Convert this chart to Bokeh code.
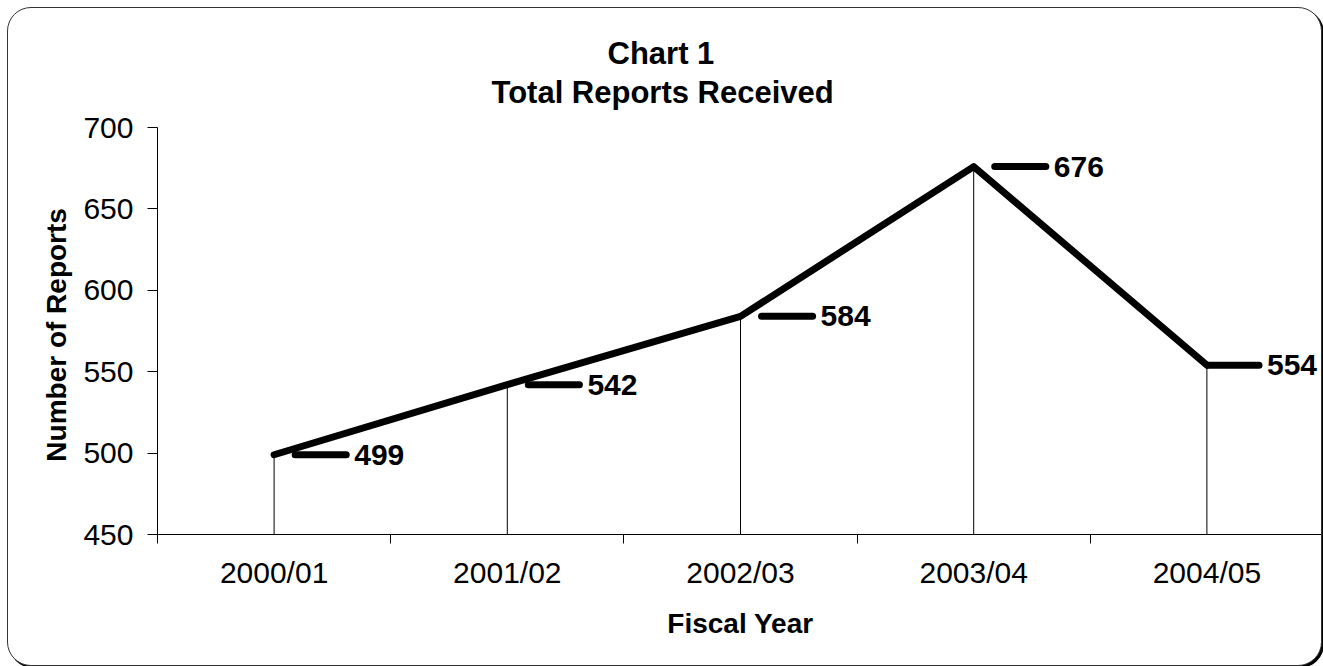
from bokeh.plotting import figure
from bokeh.models import (FactorRange, Range1d, LinearAxis, CategoricalAxis,
                          FixedTicker, Title)
from bokeh.core.properties import value
from bokeh.embed import file_html
from bokeh.resources import INLINE

# ---- data ----
years = ["2000/01", "2001/02", "2002/03", "2003/04", "2004/05"]
reports = [499, 542, 584, 676, 554]
y_ticks = [450, 500, 550, 600, 650, 700]
title_line1 = "Chart 1"
title_line2 = "Total Reports Received"
x_title = "Fiscal Year"
y_title = "Number of  Reports"

# ---- style ----
FONT = "Liberation Sans"
W, H = 1315, 659            # outer size incl. 1px border (border-box)
ML, MR, MT, MB = 149, 0, 119, 133
frame_w = (W - 2) - ML - MR
cat_px = frame_w / len(years)

p = figure(width=W, height=H,
           x_range=FactorRange(factors=years, range_padding=0),
           y_range=Range1d(y_ticks[0], y_ticks[-1]),
           x_axis_location=None, y_axis_location=None,
           output_backend="svg", toolbar_location=None,
           min_border_left=ML, min_border_right=MR,
           min_border_top=MT, min_border_bottom=MB)
p.outline_line_color = None
p.border_fill_color = None
p.background_fill_color = None
p.grid.visible = False
p.styles = {"border": "1px solid #333333", "border-radius": "24px",
            "box-shadow": "2px 2px 0px #000000", "background-color": "white",
            "overflow": "hidden", "margin-left": "7px", "margin-top": "7px"}

# y axis
yaxis = LinearAxis(ticker=FixedTicker(ticks=y_ticks, minor_ticks=[]),
                   axis_line_color="black", major_tick_line_color="black",
                   major_tick_out=10, major_tick_in=0,
                   minor_tick_out=0, minor_tick_in=0,
                   major_label_text_font=FONT, major_label_text_font_size="30px",
                   major_label_text_color="black", major_label_standoff=14,
                   axis_label=y_title, axis_label_text_font=FONT,
                   axis_label_text_font_style="bold", axis_label_text_font_size="28px",
                   axis_label_text_color="black", axis_label_standoff=8)
p.add_layout(yaxis, "left")

# x axis: tick marks on the category boundaries (synthetic coordinates 0..n)
edge_ticks = list(range(len(years) + 1))
edge_axis = LinearAxis(ticker=FixedTicker(ticks=edge_ticks, minor_ticks=[]),
                       axis_line_color="black", major_tick_line_color="black",
                       major_tick_out=9, major_tick_in=0,
                       minor_tick_out=0, minor_tick_in=0,
                       major_label_overrides={t: "" for t in edge_ticks},
                       major_label_text_font_size="0px", major_label_standoff=0)
p.add_layout(edge_axis, "below")

cat_axis = CategoricalAxis(major_tick_out=0, major_tick_in=0,
                           major_tick_line_color=None, axis_line_color=None,
                           major_label_text_font=FONT, major_label_text_font_size="30px",
                           major_label_text_color="black", major_label_standoff=12,
                           axis_label=x_title, axis_label_text_font=FONT,
                           axis_label_text_font_style="bold", axis_label_text_font_size="28px",
                           axis_label_text_color="black", axis_label_standoff=16)
p.add_layout(cat_axis, "below")

# drop lines
p.segment(x0=years, y0=[y_ticks[0]] * len(years), x1=years, y1=reports,
          line_color="black", line_width=1)
# main line
p.line(x=years, y=reports, line_color="black", line_width=7,
       line_join="round", line_cap="round")

# data labels with legend key
centers = [i + 0.5 for i in range(len(years))]
key_start_px = [21, 21, 21, 21, 1]
key_len_px = 51
kx0 = [c + s / cat_px for c, s in zip(centers, key_start_px)]
kx1 = [x + key_len_px / cat_px for x in kx0]
p.segment(x0=kx0, y0=reports, x1=kx1, y1=reports, line_color="black",
          line_width=7, line_cap="round")
p.text(x=kx1, y=reports, text=[str(v) for v in reports], x_offset=8,
       text_align="left", text_baseline="middle", text_font=value(FONT),
       text_font_style="bold", text_font_size="30px", text_color="black")

# titles (first added is closest to the plot)
p.add_layout(Title(text=" ", text_font_size="13px", standoff=0), "above")
p.add_layout(Title(text=title_line2, align="left", offset=334, text_font=FONT,
                   text_font_style="bold", text_font_size="31px",
                   text_color="black", standoff=2), "above")
p.add_layout(Title(text=title_line1, align="left", offset=450, text_font=FONT,
                   text_font_style="bold", text_font_size="31px",
                   text_color="black", standoff=2), "above")

open("out.html", "w").write(file_html(p, INLINE))
